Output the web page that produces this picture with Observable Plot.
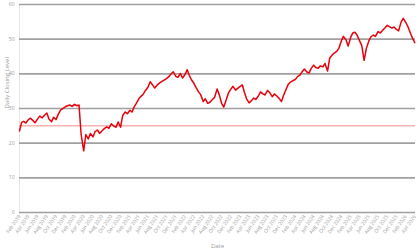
<!DOCTYPE html>
<html>
<head>
<meta charset="utf-8">
<script src="https://cdn.jsdelivr.net/npm/d3@7"></script>
<script src="https://cdn.jsdelivr.net/npm/@observablehq/plot@0.6"></script>
<style>
  html, body { margin: 0; padding: 0; background: #fff; }
</style>
</head>
<body>
<div id="chart"></div>
<script>
// Semi-monthly readings (1st and 15th of each month) of the daily closing level
const startMonth = "2019-02";
const values = [
  // 2019 Feb..Dec
  23.5, 26.0, 26.3, 25.8, 26.8, 27.2, 26.5, 25.9, 27.0, 27.8, 27.3, 28.0,
  28.7, 27.0, 26.2, 27.5, 26.8, 28.3, 29.6, 30.0, 30.5, 30.8,
  // 2020
  31.0, 30.6, 31.2, 30.8, 31.0, 22.5, 17.8, 22.5, 21.2, 22.8, 21.8, 23.3,
  23.8, 22.8, 23.6, 24.2, 24.7, 24.3, 25.6, 25.0, 24.6, 26.1, 24.6, 28.0,
  // 2021
  29.0, 28.5, 29.5, 29.0, 30.5, 31.5, 32.8, 33.5, 34.2, 35.2, 36.2, 37.7,
  36.8, 35.9, 36.8, 37.3, 37.8, 38.2, 38.6, 39.1, 40.0, 40.6, 39.3, 39.0,
  // 2022
  40.1, 38.8, 39.8, 41.2, 39.5, 38.3, 37.2, 36.0, 34.8, 34.0, 32.0, 32.8,
  31.5, 31.8, 32.6, 33.2, 35.6, 34.0, 31.5, 30.4, 32.6, 34.5, 35.6, 36.4,
  // 2023
  35.3, 35.8, 36.4, 36.8, 34.6, 32.8, 31.6, 32.2, 33.0, 32.6, 33.6, 34.8,
  34.2, 33.9, 35.2, 34.6, 33.4, 34.2, 33.6, 33.0, 32.0, 33.8, 35.5, 36.9,
  // 2024
  37.7, 38.0, 38.4, 39.2, 39.6, 40.5, 41.4, 40.6, 40.2, 41.5, 42.5, 41.8,
  41.6, 42.3, 42.0, 43.0, 40.8, 44.5, 45.4, 46.0, 46.5, 47.4, 49.5, 50.8,
  // 2025
  49.8, 48.0, 50.5, 51.8, 52.0, 51.2, 49.5, 48.2, 43.9, 47.2, 49.5, 50.7,
  51.2, 50.8, 52.2, 51.8, 52.6, 53.2, 54.0, 53.6, 53.2, 53.5, 52.8, 52.4,
  // 2026 Jan..Apr
  55.0, 56.0, 54.8, 53.6, 52.0, 50.5, 49.0
];
const yTicks = [0, 10, 20, 30, 40, 50, 60];
const referenceLevel = [25];
const endDate = new Date(Date.UTC(2026, 3, 6));

// Build dates: 1st and 15th of each month
const start = new Date(startMonth + "-01T00:00:00Z");
const dates = [];
for (let i = 0; i < values.length; i++) {
  const m = Math.floor(i / 2);
  const day = i % 2 === 0 ? 1 : 15;
  dates.push(new Date(Date.UTC(start.getUTCFullYear(), start.getUTCMonth() + m, day)));
}
const data = values.map((v, i) => ({date: dates[i], value: v}));
const xTicks = d3.utcMonth.range(start, new Date(Date.UTC(2026, 3, 2)), 2);

const chart = Plot.plot({
  width: 420,
  height: 252,
  marginLeft: 19,
  marginRight: 5,
  marginTop: 4,
  marginBottom: 40,
  style: {fontFamily: "'Open Sans', sans-serif", fontSize: "5px", color: "#999", background: "#fff"},
  x: {type: "utc", domain: [start, endDate]},
  y: {domain: [0, 60]},
  marks: [
    Plot.ruleX([start], {stroke: "#e6e6e6", strokeWidth: 1}),
    Plot.ruleY(yTicks, {stroke: "#a0a0a0", strokeWidth: 1.6}),
    Plot.ruleY(referenceLevel, {stroke: "#f58a8a", strokeWidth: 1}),
    Plot.lineY(data, {x: "date", y: "value", stroke: "#e8000b", strokeWidth: 1.5}),
    Plot.axisY({ticks: yTicks, tickSize: 0, tickPadding: 5, label: null}),
    Plot.axisX({ticks: xTicks, tickFormat: d3.utcFormat("%b %Y"), tickRotate: -55, tickSize: 0, tickPadding: 3, label: null}),
    Plot.text(["Daily Closing Level"], {frameAnchor: "left", rotate: -90, dx: -12, fontSize: 6, fill: "#999"}),
    Plot.text(["Date"], {frameAnchor: "bottom", dy: 35, fontSize: 6, fill: "#999"})
  ]
});
document.getElementById("chart").appendChild(chart);
</script>
</body>
</html>
